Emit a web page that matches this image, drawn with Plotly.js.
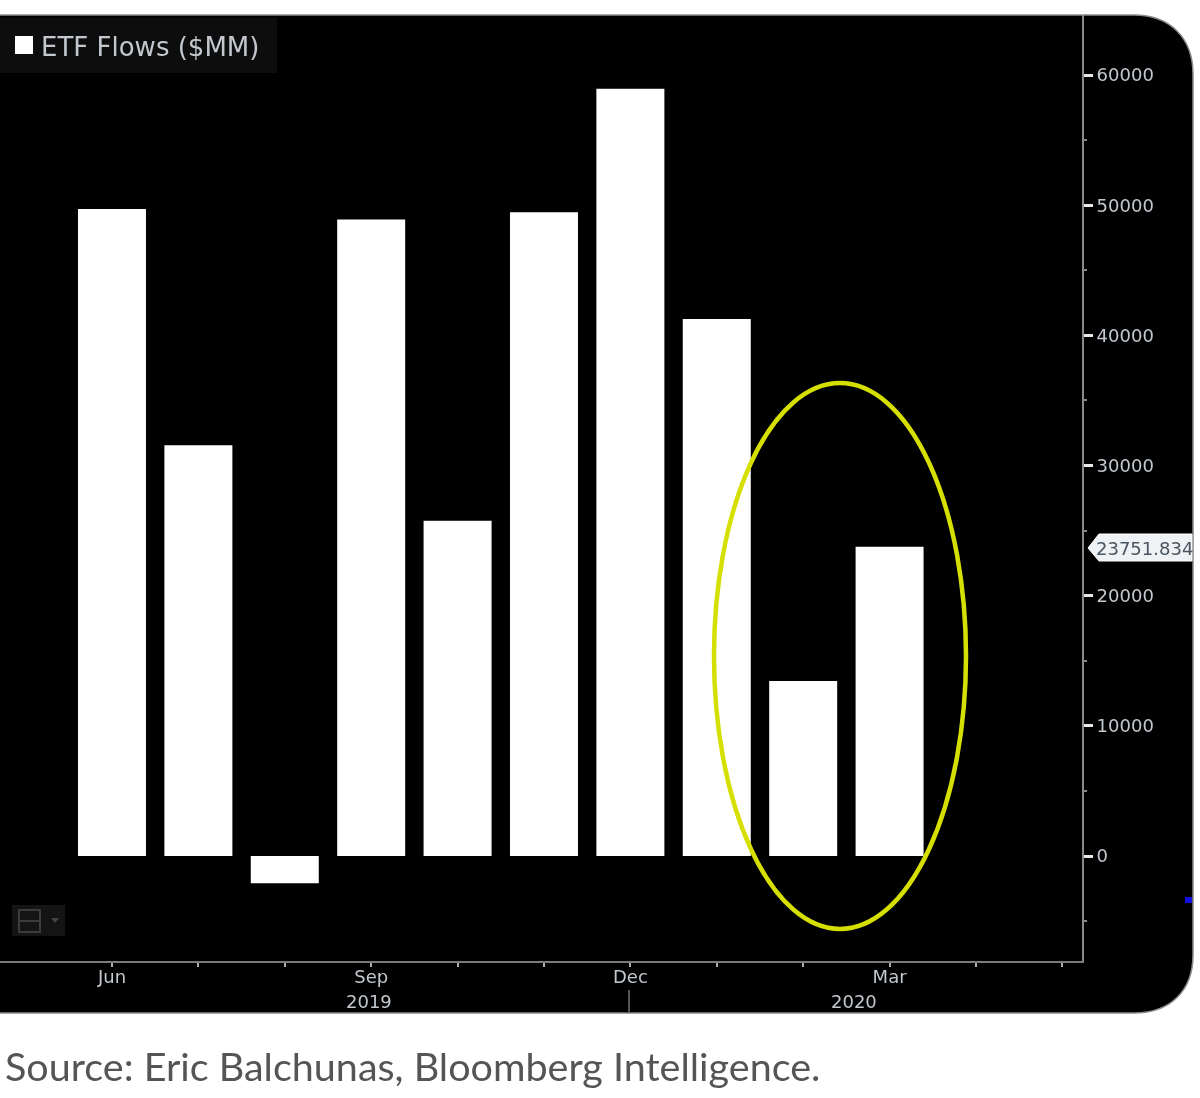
<!DOCTYPE html>
<html>
<head>
<meta charset="utf-8">
<script src="https://cdn.plot.ly/plotly-3.0.1.min.js"></script>
<style>html,body{margin:0;padding:0;background:#fff}#c{width:1200px;height:1098px;filter:blur(0.6px)}</style>
</head>
<body>
<div id="c"></div>
<script>
const months = ['2019-06','2019-07','2019-08','2019-09','2019-10','2019-11','2019-12','2020-01','2020-02','2020-03','2020-04','2020-05'];
const flowMonths = ['2019-06','2019-07','2019-08','2019-09','2019-10','2019-11','2019-12','2020-01','2020-02','2020-03'];
const etfFlows = [49700, 31550, -2100, 48900, 25750, 49450, 58950, 41250, 13450, 23751.834];
const monthLabels = ['Jun','','','Sep','','','Dec','','','Mar','',''];
const yTicks = [0,10000,20000,30000,40000,50000,60000];
const seriesName = 'ETF Flows ($MM)';
const lastValue = '23751.834';
const sourceText = 'Source: Eric Balchunas, Bloomberg Intelligence.';

const W = 1082, H = 946, TOP = 15;
const px = x => x / W;
const py = y => (TOP + H - y) / H;
const pt = (x, y) => px(x).toFixed(5) + ',' + py(y).toFixed(5);
const paper = {xref:'paper', yref:'paper'};

const framePath = 'M' + pt(-5,15) + ' L' + pt(1134,15) +
  ' C' + pt(1170,15) + ' ' + pt(1193,38) + ' ' + pt(1193,74) +
  ' L' + pt(1193,955) +
  ' C' + pt(1193,991) + ' ' + pt(1170,1013) + ' ' + pt(1134,1013) +
  ' L' + pt(-5,1013) + ' Z';

const tagPath = 'M' + pt(1088,548) + ' L' + pt(1099,534) + ' L' + pt(1192,534) +
  ' L' + pt(1192,561) + ' L' + pt(1099,561) + ' Z';

const shapes = [
  Object.assign({type:'path', path:framePath, fillcolor:'#000', line:{color:'#8a8a8a', width:1.5}, layer:'below'}, paper),
  // legend backing and swatch
  Object.assign({type:'rect', x0:px(-2), x1:px(277), y0:py(18), y1:py(73), fillcolor:'#0d0d0d', line:{width:0}, layer:'below'}, paper),
  Object.assign({type:'rect', x0:px(15), x1:px(33), y0:py(36), y1:py(54), fillcolor:'#ffffff', line:{width:0}, layer:'below'}, paper),
  // chart-type widget
  Object.assign({type:'rect', x0:px(12), x1:px(65), y0:py(905), y1:py(936), fillcolor:'#141414', line:{width:0}, layer:'below'}, paper),
  Object.assign({type:'rect', x0:px(19), x1:px(40), y0:py(910), y1:py(932), fillcolor:'rgba(0,0,0,0)', line:{color:'#3c3c3c', width:2}, layer:'below'}, paper),
  Object.assign({type:'line', x0:px(19), x1:px(40), y0:py(921), y1:py(921), line:{color:'#3c3c3c', width:2}, layer:'below'}, paper),
  Object.assign({type:'path', path:'M' + pt(51,918) + ' L' + pt(59,918) + ' L' + pt(55,923) + ' Z', fillcolor:'#444', line:{width:0}, layer:'below'}, paper),
  // year separator
  Object.assign({type:'line', x0:px(629), x1:px(629), y0:py(990), y1:py(1013), line:{color:'#555', width:2}}, paper),
  // last-price tag
  Object.assign({type:'path', path:tagPath, fillcolor:'#eef2f4', line:{color:'#ffffff', width:1}}, paper),
  // blue marker on the edge
  Object.assign({type:'rect', x0:px(1185), x1:px(1192), y0:py(897), y1:py(903), fillcolor:'#1010e0', line:{width:0}}, paper),
  // yellow highlight ellipse
  {type:'circle', xref:'paper', yref:'paper', x0:px(714), x1:px(966), y0:py(929), y1:py(383),
   fillcolor:'rgba(0,0,0,0)', line:{color:'#d6e000', width:4.5}}
];

const annotations = [
  Object.assign({x:px(369), y:py(1002), text:'2019', showarrow:false, xanchor:'center', yanchor:'middle', font:{family:'DejaVu Sans', size:18, color:'#c2c8ce'}}, paper),
  Object.assign({x:px(854), y:py(1002), text:'2020', showarrow:false, xanchor:'center', yanchor:'middle', font:{family:'DejaVu Sans', size:18, color:'#c2c8ce'}}, paper),
  Object.assign({x:px(1094), y:py(548), text:lastValue, showarrow:false, xanchor:'left', yanchor:'middle', font:{family:'DejaVu Sans', size:18, color:'#4a5560'}}, paper),
  Object.assign({x:px(3), y:py(1065), text:sourceText, showarrow:false, xanchor:'left', yanchor:'middle', font:{family:'Lato', size:39.5, color:'#555555'}}, paper)
];

const trace = {
  type:'bar',
  name:seriesName,
  x:flowMonths,
  y:etfFlows,
  width:0.787,
  marker:{color:'#ffffff'},
  showlegend:true,
  hoverinfo:'x+y'
};

const layout = {
  width:1200, height:1098,
  margin:{l:0, r:118, t:15, b:137, pad:0},
  paper_bgcolor:'#ffffff',
  plot_bgcolor:'rgba(0,0,0,0)',
  showlegend:true,
  legend:{x:px(1), y:py(22), xanchor:'left', yanchor:'top', bgcolor:'rgba(0,0,0,0)', borderwidth:0,
    font:{family:'DejaVu Sans', size:26, color:'#c2c8ce'}, itemwidth:30, itemclick:false, itemdoubleclick:false},
  xaxis:{
    type:'category', categoryorder:'array', categoryarray:months,
    range:[-1.296, 11.227],
    tickmode:'array', tickvals:months, ticktext:monthLabels,
    ticks:'outside', ticklen:4, tickwidth:2, tickcolor:'#aaaaaa',
    ticklabelstandoff:-6,
    showline:true, linecolor:'#7a7a7a', linewidth:2,
    showgrid:false, zeroline:false,
    tickfont:{family:'DejaVu Sans', size:18, color:'#c2c8ce'},
    tickangle:0, fixedrange:true
  },
  yaxis:{
    side:'right', range:[-8066, 64614],
    tickmode:'array', tickvals:yTicks, ticktext:yTicks.map(String),
    ticks:'outside', ticklen:9, tickwidth:3, tickcolor:'#e8e8e8',
    minor:{dtick:5000, ticks:'outside', ticklen:3, tickwidth:2, tickcolor:'#888888'},
    showline:true, linecolor:'#8a8a8a', linewidth:2,
    showgrid:false, zeroline:false,
    tickfont:{family:'DejaVu Sans', size:18, color:'#c2c8ce'},
    fixedrange:true
  },
  bargap:0.21,
  shapes:shapes,
  annotations:annotations
};

Plotly.newPlot('c', [trace], layout, {displayModeBar:false, responsive:false});
</script>
</body>
</html>
